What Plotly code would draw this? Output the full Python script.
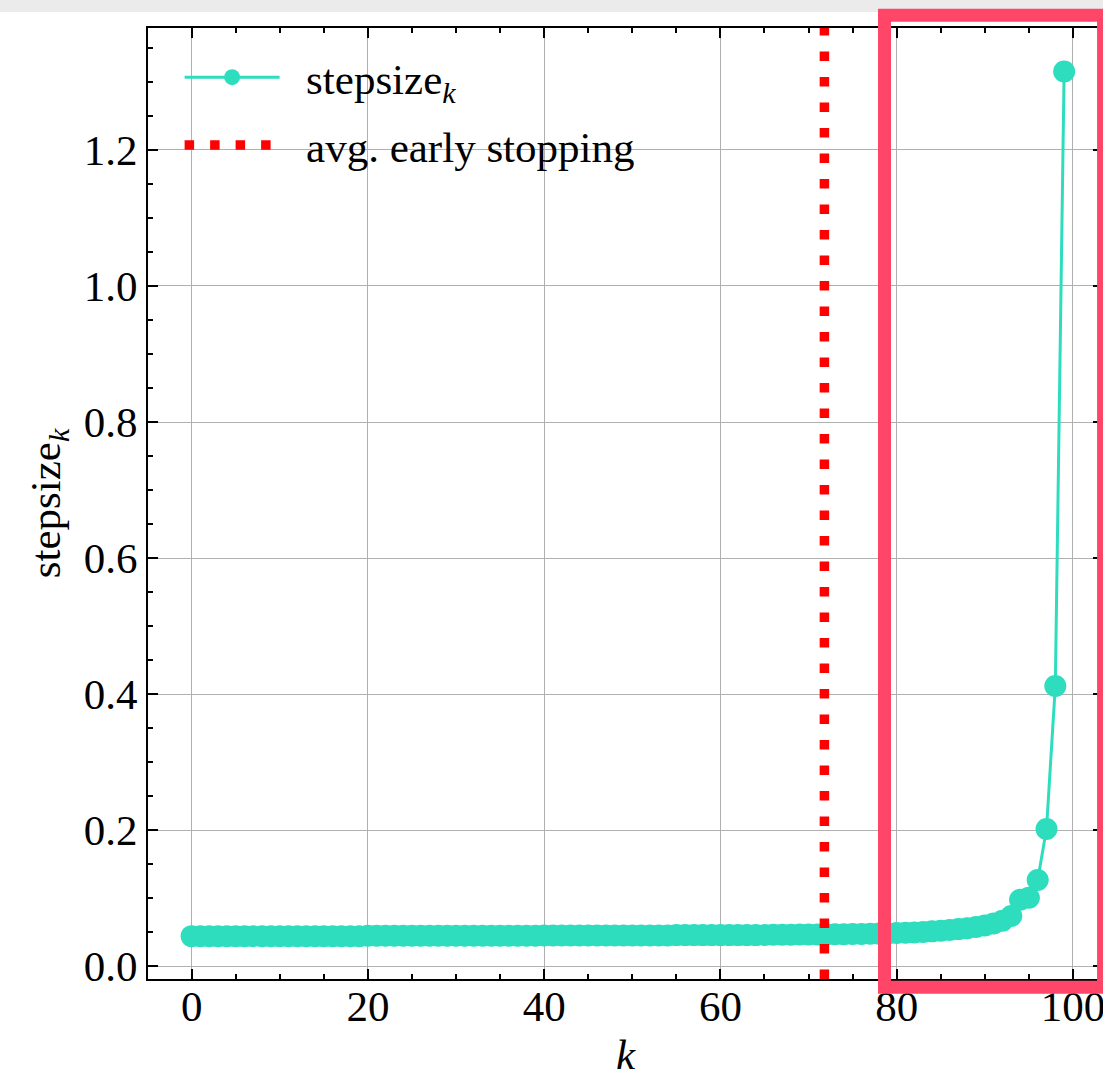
import plotly.graph_objects as go

# step size per iteration k = 0..99
k_values = list(range(100))
stepsize = (
    [0.0445] * 20
    + [0.0450] * 20
    + [0.0455] * 15
    + [0.0460] * 10
    + [0.0463, 0.0465, 0.0466, 0.0467, 0.0468]            # 65-69
    + [0.0469, 0.0470, 0.0471, 0.0472, 0.0473]            # 70-74
    + [0.0475, 0.0477, 0.0479, 0.0482, 0.0485]            # 75-79
    + [0.0490, 0.0495, 0.0500, 0.0507, 0.0515]            # 80-84
    + [0.0525, 0.0535, 0.0548, 0.0560, 0.0580]            # 85-89
    + [0.0600, 0.0630, 0.0670, 0.0740, 0.0980]            # 90-94
    + [0.1010, 0.1270, 0.2020, 0.4120, 1.3150]            # 95-99
)
avg_early_stop = 71.8

x_range = [-4.95, 103.41]
y_range = [-0.0185, 1.379]

FONT = "Liberation Serif"
TEAL = "#2DDDBE"
LEGEND_PAD = "\u00a0\u00a0"  # small gap between legend symbol and label

fig = go.Figure()
fig.add_trace(go.Scatter(
    x=k_values, y=stepsize, mode="lines+markers",
    name=LEGEND_PAD + "stepsize<sub><i>k</i></sub>",
    legendgroup="steps",
    line=dict(color=TEAL, width=3),
    marker=dict(color=TEAL, size=22, line=dict(width=0)),
))
fig.add_trace(go.Scatter(
    x=[avg_early_stop, avg_early_stop], y=[y_range[0], y_range[1]],
    mode="lines", name=LEGEND_PAD + "avg. early stopping",
    legendgroup="stop",
    line=dict(color="#ff0000", width=9.5, dash="9.5px,16px"),
))

# highlight box around the final iterations, and the strip above the axes
fig.add_shape(type="rect", xref="paper", yref="paper",
              x0=-0.16, x1=1.01, y0=1.0168, y1=1.035,
              fillcolor="#ebebeb", line=dict(width=0), layer="above")
fig.add_shape(type="rect", xref="paper", yref="paper",
              x0=0.7712, x1=1.0006, y0=-0.0086, y1=1.0133,
              fillcolor="rgba(0,0,0,0)",
              line=dict(color="#FF4668", width=13), layer="above")

axis_common = dict(
    showline=True, linecolor="black", linewidth=1.8, mirror="allticks",
    ticks="inside", ticklen=10, tickwidth=1.8, tickcolor="black",
    showgrid=True, gridcolor="#b0b0b0", gridwidth=1.2, zeroline=False,
    tickfont=dict(family=FONT, size=43, color="black"),
    ticklabeloverflow="allow",
)

fig.update_xaxes(
    range=x_range, dtick=20, tick0=0, ticklabelstandoff=-12,
    minor=dict(dtick=5, ticks="inside", ticklen=5, tickwidth=1.5,
               tickcolor="black", showgrid=False),
    title=dict(text="<i>k</i>", font=dict(family=FONT, size=43, color="black"),
               standoff=10),
    **axis_common,
)
fig.update_yaxes(
    range=y_range, dtick=0.2, tick0=0, tickformat=".1f",
    minor=dict(dtick=0.05, ticks="inside", ticklen=5, tickwidth=1.5,
               tickcolor="black", showgrid=False),
    title=dict(text="stepsize<sub><i>k</i></sub>",
               font=dict(family=FONT, size=43, color="black"), standoff=10),
    **axis_common,
)

fig.update_layout(
    width=1103, height=1079,
    margin=dict(l=148, r=0, t=28, b=100, autoexpand=False),
    paper_bgcolor="white", plot_bgcolor="white",
    font=dict(family=FONT, size=43, color="black"),
    showlegend=True,
    legend=dict(x=0.0331, y=0.9845, xanchor="left", yanchor="top",
                bgcolor="rgba(0,0,0,0)", borderwidth=0, itemwidth=95,
                tracegroupgap=9,
                font=dict(family=FONT, size=43, color="black")),
)

fig.write_html("out.html")
